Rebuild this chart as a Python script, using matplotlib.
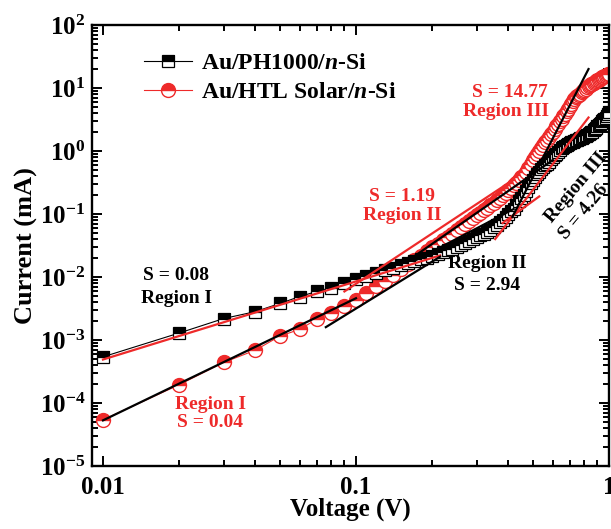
import matplotlib
matplotlib.use("Agg")
import matplotlib.pyplot as plt
from matplotlib.ticker import LogLocator, FuncFormatter, NullFormatter
import numpy as np

plt.rcParams['font.family'] = 'Liberation Serif'
plt.rcParams['font.weight'] = 'bold'
plt.rcParams['mathtext.fontset'] = 'custom'
plt.rcParams['mathtext.rm'] = 'Liberation Serif:bold'
plt.rcParams['mathtext.bf'] = 'Liberation Serif:bold'
plt.rcParams['mathtext.it'] = 'Liberation Serif:italic:bold'

# voltage sweep (V)
voltage = [0.01, 0.02, 0.03, 0.04, 0.05, 0.06, 0.07, 0.08, 0.09, 0.10,
           0.11, 0.12, 0.13, 0.14, 0.15, 0.16, 0.17, 0.18, 0.19, 0.20,
           0.21, 0.22, 0.23, 0.24, 0.25, 0.26, 0.27, 0.28, 0.29, 0.30,
           0.31, 0.32, 0.33, 0.34, 0.35, 0.36, 0.37, 0.38, 0.39, 0.40,
           0.41, 0.42, 0.43, 0.44, 0.45, 0.46, 0.47, 0.48, 0.49, 0.50,
           0.51, 0.52, 0.53, 0.54, 0.55, 0.56, 0.57, 0.58, 0.59, 0.60,
           0.61, 0.62, 0.63, 0.64, 0.65, 0.66, 0.67, 0.68, 0.69, 0.70,
           0.71, 0.72, 0.73, 0.74, 0.75, 0.76, 0.77, 0.78, 0.79, 0.80,
           0.81, 0.82, 0.83, 0.84, 0.85, 0.86, 0.87, 0.88, 0.89, 0.90,
           0.91, 0.92, 0.93, 0.94, 0.95, 0.96, 0.97, 0.98, 0.99, 1.00]

# current (mA), Au/PH1000/n-Si
i_ph1000 = [5.4e-4, 1.29e-3, 2.19e-3, 2.82e-3, 3.8e-3, 4.9e-3, 5.9e-3, 6.8e-3, 8.1e-3, 9.3e-3,
            1.02e-2, 1.15e-2, 1.29e-2, 1.41e-2, 1.55e-2, 1.66e-2, 1.78e-2, 1.91e-2, 2.04e-2, 2.19e-2,
            2.34e-2, 2.51e-2, 2.66e-2, 2.82e-2, 3.02e-2, 3.24e-2, 3.47e-2, 3.72e-2, 3.98e-2, 4.27e-2,
            4.57e-2, 4.9e-2, 5.25e-2, 5.6e-2, 6.2e-2, 6.8e-2, 7.4e-2, 8.1e-2, 8.9e-2, 0.100,
            0.110, 0.120, 0.138, 0.158, 0.178, 0.204, 0.234, 0.269, 0.309, 0.347,
            0.389, 0.427, 0.468, 0.513, 0.550, 0.589, 0.631, 0.676, 0.741, 0.794,
            0.851, 0.912, 0.977, 1.05, 1.10, 1.15, 1.20, 1.26, 1.30, 1.35,
            1.38, 1.41, 1.45, 1.48, 1.51, 1.55, 1.58, 1.62, 1.66, 1.70,
            1.74, 1.78, 1.84, 1.91, 1.97, 2.04, 2.14, 2.24, 2.34, 2.45,
            2.57, 2.69, 2.82, 2.95, 3.09, 3.24, 3.39, 3.63, 3.89, 4.17]

# current (mA), Au/HTL Solar/n-Si
i_htl = [5.4e-5, 1.95e-4, 4.4e-4, 6.9e-4, 1.15e-3, 1.48e-3, 2.14e-3, 2.69e-3, 3.47e-3, 4.27e-3,
         5.6e-3, 7.2e-3, 8.7e-3, 1.07e-2, 1.32e-2, 1.58e-2, 1.86e-2, 2.19e-2, 2.57e-2, 2.95e-2,
         3.39e-2, 3.80e-2, 4.37e-2, 4.90e-2, 5.50e-2, 6.17e-2, 6.92e-2, 7.76e-2, 8.71e-2, 9.55e-2,
         0.105, 0.115, 0.126, 0.138, 0.151, 0.166, 0.182, 0.200, 0.219, 0.240,
         0.263, 0.288, 0.316, 0.347, 0.380, 0.417, 0.468, 0.537, 0.617, 0.708,
         0.794, 0.891, 1.00, 1.12, 1.26, 1.38, 1.51, 1.66, 1.86, 2.04,
         2.24, 2.45, 2.69, 2.95, 3.24, 3.55, 3.89, 4.27, 4.68, 5.13,
         5.62, 6.17, 6.61, 7.08, 7.41, 7.76, 8.13, 8.51, 8.91, 9.33,
         9.77, 10.2, 10.7, 11.1, 11.5, 11.7, 12.0, 12.4, 12.9, 13.2,
         13.5, 13.8, 14.3, 14.8, 15.1, 15.5, 15.8, 16.2, 16.6, 17.0]

# fitted straight segments: (V start, V end), (I start, I end), colour
fit_v = [(0.01, 0.215), (0.09, 0.38), (0.355, 0.83), (0.38, 0.53),
         (0.01, 0.10), (0.076, 0.215), (0.17, 0.42), (0.16, 0.60), (0.415, 0.83)]
fit_i = [(4.9e-4, 2.2e-2), (5.9e-3, 0.27), (0.040, 3.4), (0.072, 0.19),
         (5.3e-5, 4.6e-3), (1.6e-3, 2.1e-2), (1.8e-2, 0.12), (1.8e-2, 0.72), (0.09, 20.0)]
fit_c = ['red', 'red', 'red', 'red', 'black', 'black', 'black', 'black', 'black']

red = '#ee2a2a'

fig = plt.figure(figsize=(6.11, 5.29), dpi=100)
ax = fig.add_axes([0.1506, 0.1191, 0.8461, 0.8336])

ax.plot(voltage, i_htl, '-', color=red, lw=0.8, marker='o', ms=10,
        fillstyle='top', markerfacecolor=red, markerfacecoloralt='white',
        markeredgecolor=red, mew=1.0, zorder=2, label='Au/HTL Solar/$\\mathit{n}$-Si')
ax.plot(voltage, i_ph1000, '-', color='black', lw=0.8, marker='s', ms=8.5,
        fillstyle='top', markerfacecolor='black', markerfacecoloralt='white',
        markeredgecolor='black', mew=0.9, zorder=3, label='Au/PH1000/$\\mathit{n}$-Si')

for v, i, c in zip(fit_v, fit_i, fit_c):
    ax.plot(v, i, '-', color=red if c == 'red' else 'black', lw=1.6, zorder=4)

ax.set_xscale('log')
ax.set_yscale('log')
ax.set_xlim(0.00905, 1.0)
ax.set_ylim(1e-5, 1e2)

ax.xaxis.set_major_locator(LogLocator(base=10, numticks=10))
ax.xaxis.set_minor_locator(LogLocator(base=10, subs=np.arange(2, 10), numticks=20))
ax.yaxis.set_major_locator(LogLocator(base=10, numticks=20))
ax.yaxis.set_minor_locator(LogLocator(base=10, subs=np.arange(2, 10), numticks=40))
ax.xaxis.set_major_formatter(FuncFormatter(lambda x, p: {0.01: '0.01', 0.1: '0.1', 1.0: '1'}.get(round(x, 3), '')))
ax.xaxis.set_minor_formatter(NullFormatter())
ax.yaxis.set_major_formatter(FuncFormatter(lambda y, p: '$\\mathbf{10^{%d}}$' % round(np.log10(y))))
ax.yaxis.set_minor_formatter(NullFormatter())

ax.tick_params(which='both', direction='in', top=True, right=True, width=1.4)
ax.tick_params(which='major', length=7, labelsize=18)
ax.tick_params(axis='x', which='major', pad=7)
ax.tick_params(axis='y', which='major', pad=5)
ax.tick_params(which='minor', length=4)
for s in ax.spines.values():
    s.set_linewidth(1.7)

ax.set_xlabel('Voltage (V)', fontsize=18, fontweight='bold', labelpad=-1)
ax.set_ylabel('Current (mA)', fontsize=19, fontweight='bold')
ax.yaxis.set_label_coords(-0.104, 0.5)

h, l = ax.get_legend_handles_labels()
ax.legend(h[::-1], l[::-1], loc='upper left', bbox_to_anchor=(0.06, 0.985), frameon=False,
          fontsize=17, handlelength=2.0, handletextpad=0.4, labelspacing=0.3)

fs = 14
ax.text(0.0195, 1.04e-2, 'S = 0.08', color='black', fontsize=fs, ha='center', va='center')
ax.text(0.0195, 4.6e-3, 'Region I', color='black', fontsize=fs, ha='center', va='center')
ax.text(0.0265, 9.6e-5, 'Region I', color=red, fontsize=fs, ha='center', va='center')
ax.text(0.0265, 4.9e-5, 'S = 0.04', color=red, fontsize=fs, ha='center', va='center')
ax.text(0.152, 0.188, 'S = 1.19', color=red, fontsize=fs, ha='center', va='center')
ax.text(0.152, 0.093, 'Region II', color=red, fontsize=fs, ha='center', va='center')
ax.text(0.329, 1.65e-2, 'Region II', color='black', fontsize=fs, ha='center', va='center')
ax.text(0.329, 7.2e-3, 'S = 2.94', color='black', fontsize=fs, ha='center', va='center')
ax.text(0.406, 8.4, 'S = 14.77', color=red, fontsize=fs, ha='center', va='center')
ax.text(0.393, 4.2, 'Region III', color=red, fontsize=fs, ha='center', va='center')
ax.text(0.741, 0.265, 'Region III', color='black', fontsize=fs, ha='center', va='center', rotation=50)
ax.text(0.797, 0.108, 'S = 4.26', color='black', fontsize=fs, ha='center', va='center', rotation=50)

fig.savefig('out.png', dpi=100)
